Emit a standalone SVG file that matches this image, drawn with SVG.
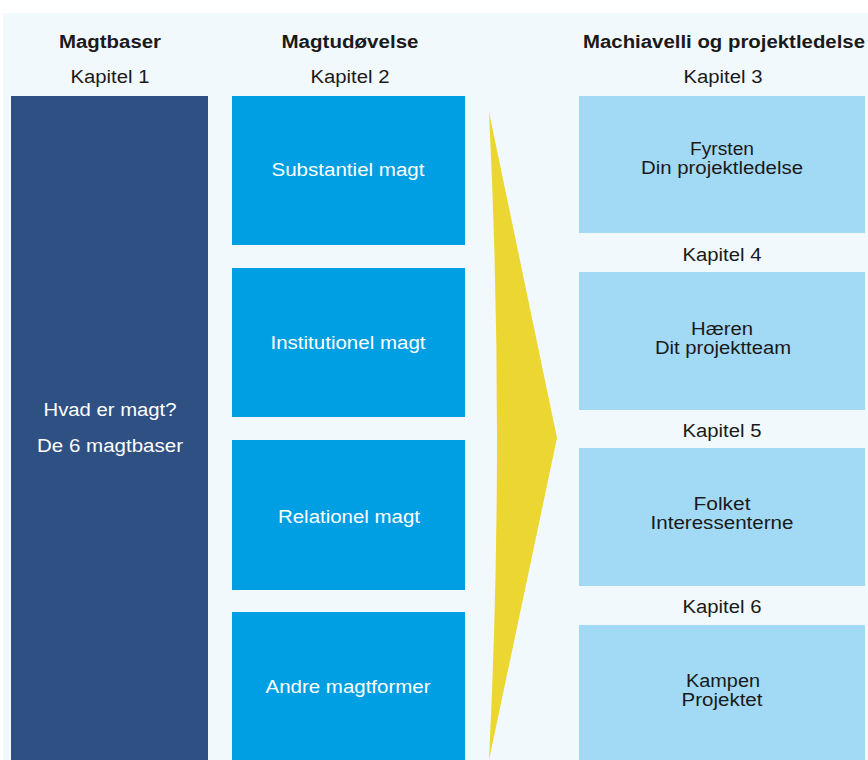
<svg xmlns="http://www.w3.org/2000/svg" width="868" height="760" viewBox="0 0 868 760">
<style>
text{font-family:"Liberation Sans",Arial,sans-serif;font-size:18px;text-anchor:middle}
.h{font-weight:bold;fill:#1a1a1a}
.k{fill:#1a1a1a}
.w{fill:#ffffff}
.d{fill:#1a1a1a}
.mid{fill:#009fe3}
.lt{fill:#a2d9f5}
</style>
<rect width="868" height="760" fill="#ffffff"/>
<rect x="3" y="13" width="865" height="747" fill="#f2f9fd"/>
<text class="h" x="110" y="48" textLength="102" lengthAdjust="spacingAndGlyphs">Magtbaser</text>
<text class="h" x="350" y="48" textLength="137" lengthAdjust="spacingAndGlyphs">Magtudøvelse</text>
<text class="h" x="724" y="48" textLength="282" lengthAdjust="spacingAndGlyphs">Machiavelli og projektledelse</text>
<text class="k" x="110" y="83" textLength="79" lengthAdjust="spacingAndGlyphs">Kapitel 1</text>
<text class="k" x="350" y="83" textLength="79" lengthAdjust="spacingAndGlyphs">Kapitel 2</text>
<text class="k" x="723" y="83" textLength="79" lengthAdjust="spacingAndGlyphs">Kapitel 3</text>
<g id="arrow"><path d="M489,112 L557,438 L489,760 Q505,436 489,112 Z" fill="#ecd631"/></g>
<g id="n1"><rect x="11" y="96" width="197" height="664" fill="#2e5082"/>
<text class="w" x="110" y="416" textLength="133" lengthAdjust="spacingAndGlyphs">Hvad er magt?</text>
<text class="w" x="110" y="452" textLength="146" lengthAdjust="spacingAndGlyphs">De 6 magtbaser</text></g>
<g id="n2"><rect class="mid" x="232" y="96" width="233" height="149"/><text class="w" x="348" y="176" textLength="153" lengthAdjust="spacingAndGlyphs">Substantiel magt</text></g>
<g id="n3"><rect class="mid" x="232" y="268" width="233" height="149"/><text class="w" x="348" y="349" textLength="155" lengthAdjust="spacingAndGlyphs">Institutionel magt</text></g>
<g id="n4"><rect class="mid" x="232" y="440" width="233" height="150"/><text class="w" x="349" y="523" textLength="142" lengthAdjust="spacingAndGlyphs">Relationel magt</text></g>
<g id="n5"><rect class="mid" x="232" y="612" width="233" height="148"/><text class="w" x="348" y="693" textLength="165" lengthAdjust="spacingAndGlyphs">Andre magtformer</text></g>
<g id="n6"><rect class="lt" x="579" y="96" width="286" height="137"/><text class="d" x="722" y="155" textLength="64" lengthAdjust="spacingAndGlyphs">Fyrsten</text><text class="d" x="722" y="174" textLength="162" lengthAdjust="spacingAndGlyphs">Din projektledelse</text></g>
<text class="k" x="722" y="261" textLength="79" lengthAdjust="spacingAndGlyphs">Kapitel 4</text>
<g id="n7"><rect class="lt" x="579" y="272" width="286" height="138"/><text class="d" x="722" y="335" textLength="62" lengthAdjust="spacingAndGlyphs">Hæren</text><text class="d" x="723" y="354" textLength="136" lengthAdjust="spacingAndGlyphs">Dit projektteam</text></g>
<text class="k" x="722" y="437" textLength="79" lengthAdjust="spacingAndGlyphs">Kapitel 5</text>
<g id="n8"><rect class="lt" x="579" y="448" width="286" height="138"/><text class="d" x="722" y="510" textLength="57" lengthAdjust="spacingAndGlyphs">Folket</text><text class="d" x="722" y="529" textLength="143" lengthAdjust="spacingAndGlyphs">Interessenterne</text></g>
<text class="k" x="722" y="613" textLength="79" lengthAdjust="spacingAndGlyphs">Kapitel 6</text>
<g id="n9"><rect class="lt" x="579" y="625" width="286" height="135"/><text class="d" x="723" y="687" textLength="74" lengthAdjust="spacingAndGlyphs">Kampen</text><text class="d" x="722" y="706" textLength="81" lengthAdjust="spacingAndGlyphs">Projektet</text></g>
</svg>
